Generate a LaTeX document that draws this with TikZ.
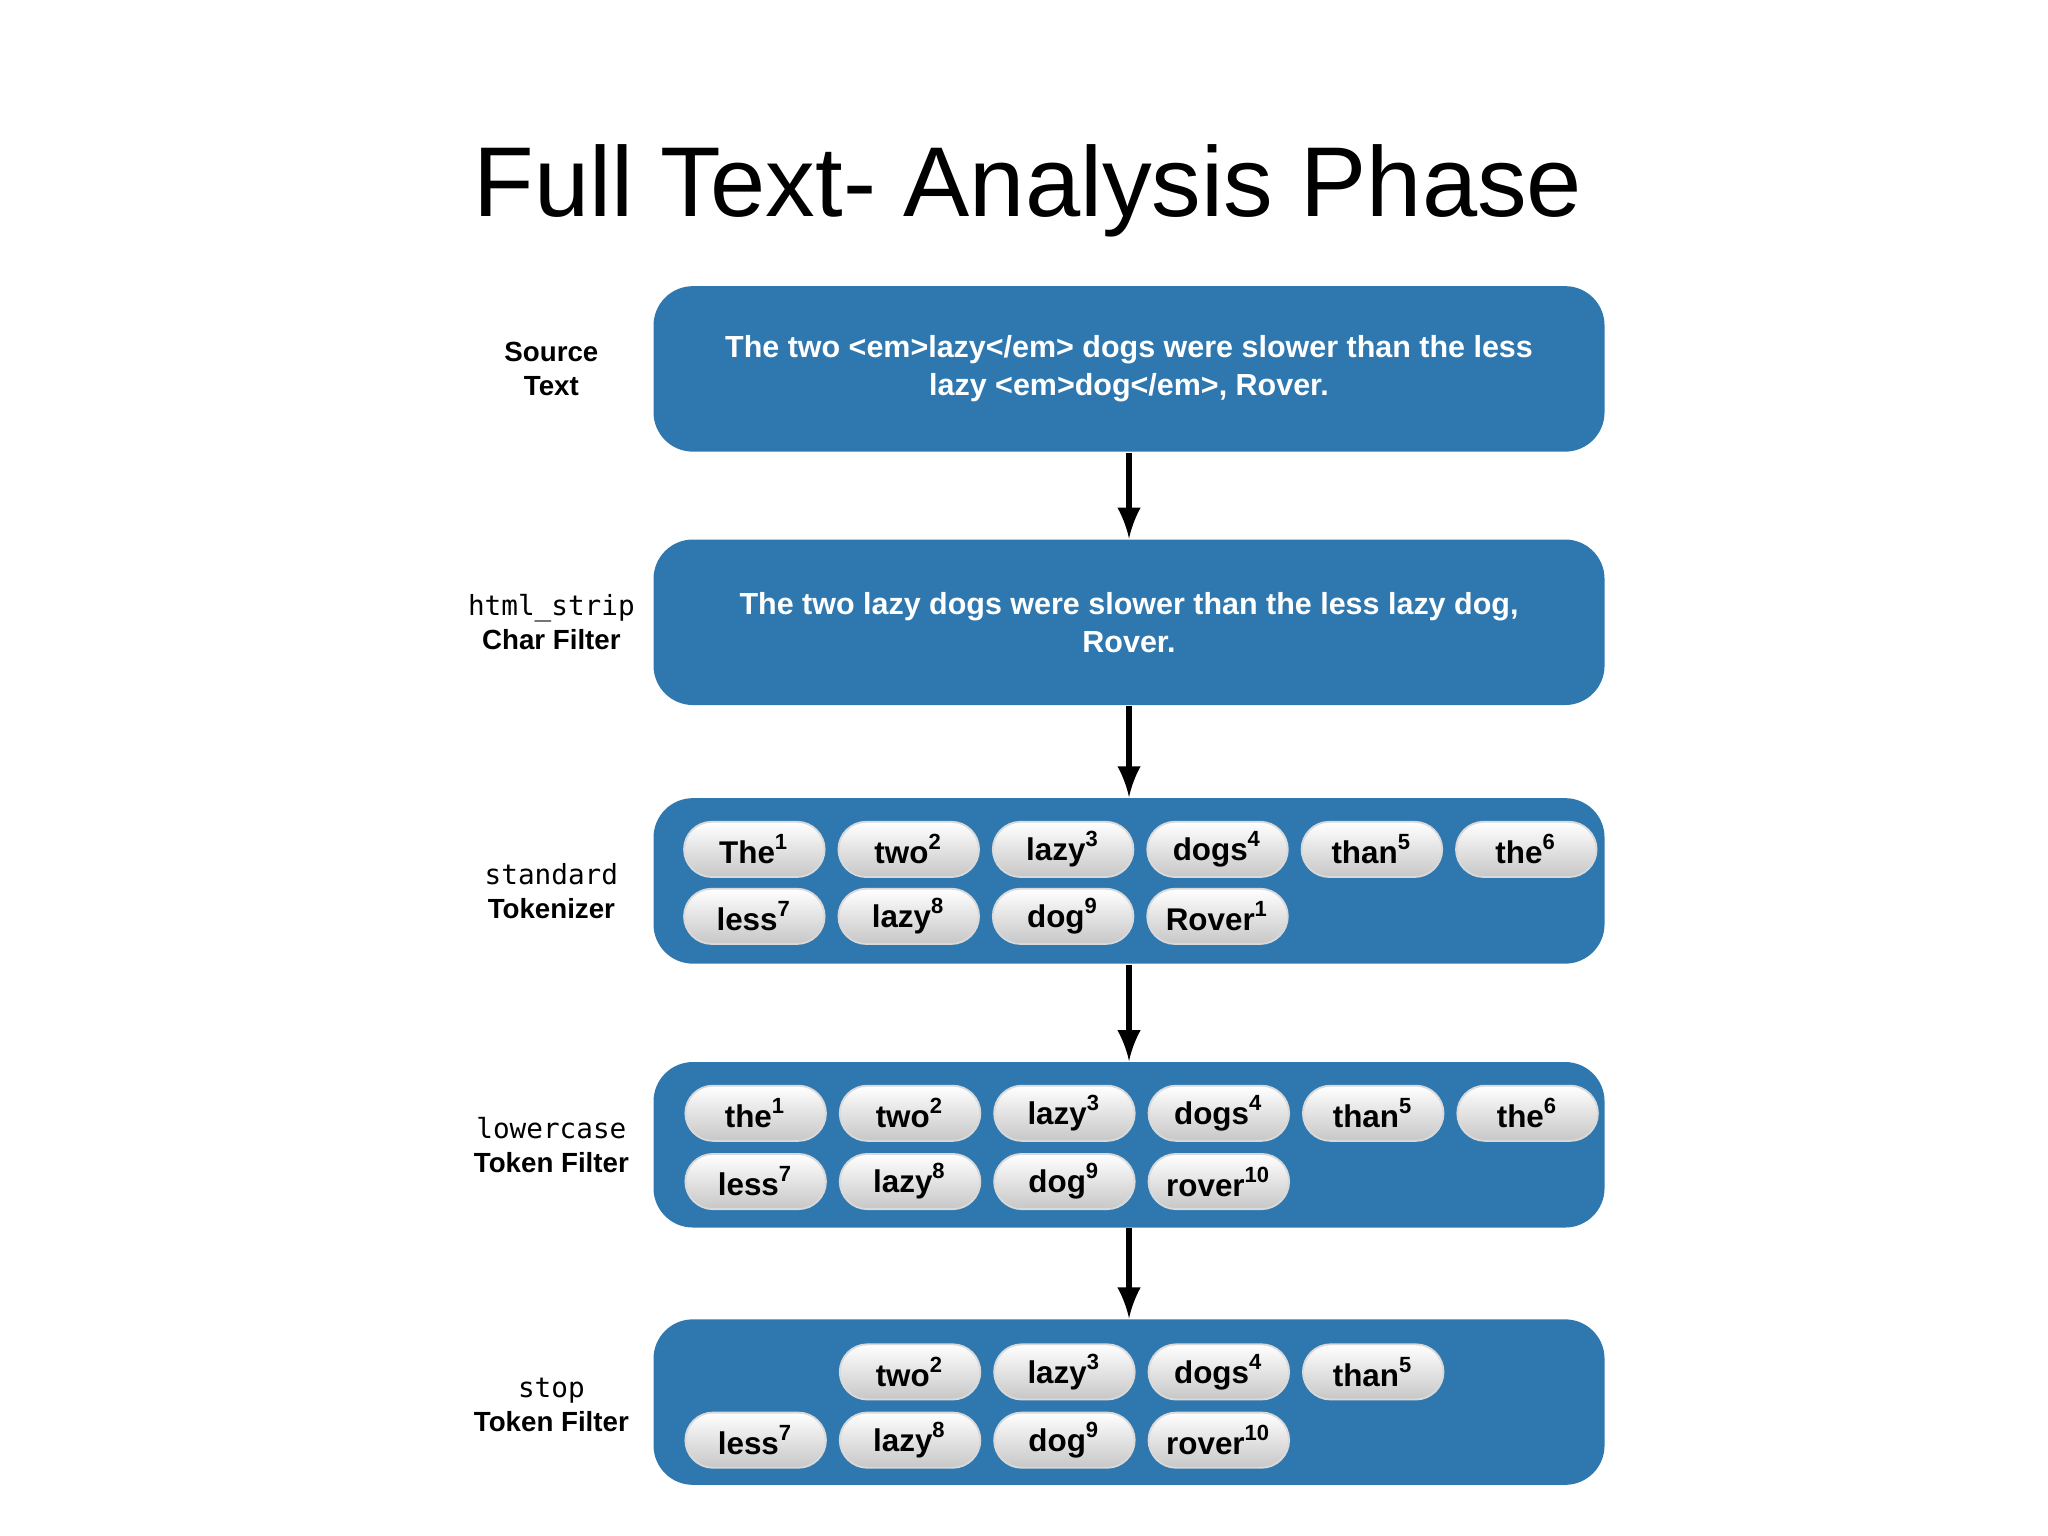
\documentclass[tikz,border=0pt]{standalone}
\usepackage{fontspec}
\setmainfont{Liberation Sans}
\setmonofont{DejaVu Sans Mono}
\usetikzlibrary{positioning}
\definecolor{boxblue}{HTML}{2F78AF}
\newcommand{\tsup}[1]{\textsuperscript{#1}}
\tikzset{
  stage/.style={draw=none,fill=boxblue,rounded corners=0.3cm,minimum width=7.24cm,minimum height=1.26cm,
    text=white,font=\fontsize{6.6}{8.2}\selectfont\bfseries,align=center},
  lbl/.style={align=center,font=\fontsize{6}{7.4}\selectfont\bfseries},
  tok/.style={rounded corners=0.21cm,minimum width=1.07cm,minimum height=0.42cm,inner sep=0pt,
    top color=white,bottom color=black!22,draw=black!15,font=\fontsize{6.8}{8}\selectfont\bfseries},
  flow/.style={-latex,line width=1.3pt}
}
\begin{document}
\begin{tikzpicture}[x=0.01cm,y=-0.01cm]
				\useasboundingbox (0,0) rectangle (1560,1170);
				\node[font=\fontsize{21.5}{24}\selectfont] (title) at (783,145) {Full Text- Analysis Phase};
				
				% Stages
				\node[stage] (src) at (860,281) {The two <em>lazy</em> dogs were slower than the less\\lazy <em>dog</em>, Rover.};
				\node[stage] (strip) at (860,474) {The two lazy dogs were slower than the less lazy dog,\\Rover.};
				\node[stage] (std) at (860,671) {};
				\node[stage] (low) at (860,872) {};
				\node[stage] (stop) at (860,1068) {};
				
				% Labels
				\node[lbl] (lsrc) at (420,281) {Source\\Text};
				\node[lbl] (lstrip) at (420,474) {\texttt{\mdseries html\_strip}\\Char Filter};
				\node[lbl] (lstd) at (420,679) {\texttt{\mdseries standard}\\Tokenizer};
				\node[lbl] (llow) at (420,872) {\texttt{\mdseries lowercase}\\Token Filter};
				\node[lbl] (lstop) at (420,1070) {\texttt{\mdseries stop}\\Token Filter};
				
				% Arrows
				\draw[flow] (src.south) -- (strip.north);
				\draw[flow] (strip.south) -- (std.north);
				\draw[flow] (std.south) -- (low.north);
				\draw[flow] (low.south) -- (stop.north);
				
				% Tokens
				\foreach \t [count=\i] in {The\tsup1,two\tsup2,lazy\tsup3,dogs\tsup4,than\tsup5,the\tsup6}
				  \node[tok] (a\i) at (457+117.6*\i,647) {\t};
				\foreach \t [count=\i] in {less\tsup7,lazy\tsup8,dog\tsup9,Rover\tsup1}
				  \node[tok] (b\i) at (457+117.6*\i,698) {\t};
				\foreach \t [count=\i] in {the\tsup1,two\tsup2,lazy\tsup3,dogs\tsup4,than\tsup5,the\tsup6}
				  \node[tok] (c\i) at (458+117.6*\i,848) {\t};
				\foreach \t [count=\i] in {less\tsup7,lazy\tsup8,dog\tsup9,rover\tsup{10}}
				  \node[tok] (d\i) at (458+117.6*\i,900) {\t};
				\foreach \t [count=\i] in {two\tsup2,lazy\tsup3,dogs\tsup4,than\tsup5}
				  \node[tok] (e\i) at (575.6+117.6*\i,1045) {\t};
				\foreach \t [count=\i] in {less\tsup7,lazy\tsup8,dog\tsup9,rover\tsup{10}}
				  \node[tok] (f\i) at (458+117.6*\i,1097) {\t};
\end{tikzpicture}
\end{document}
